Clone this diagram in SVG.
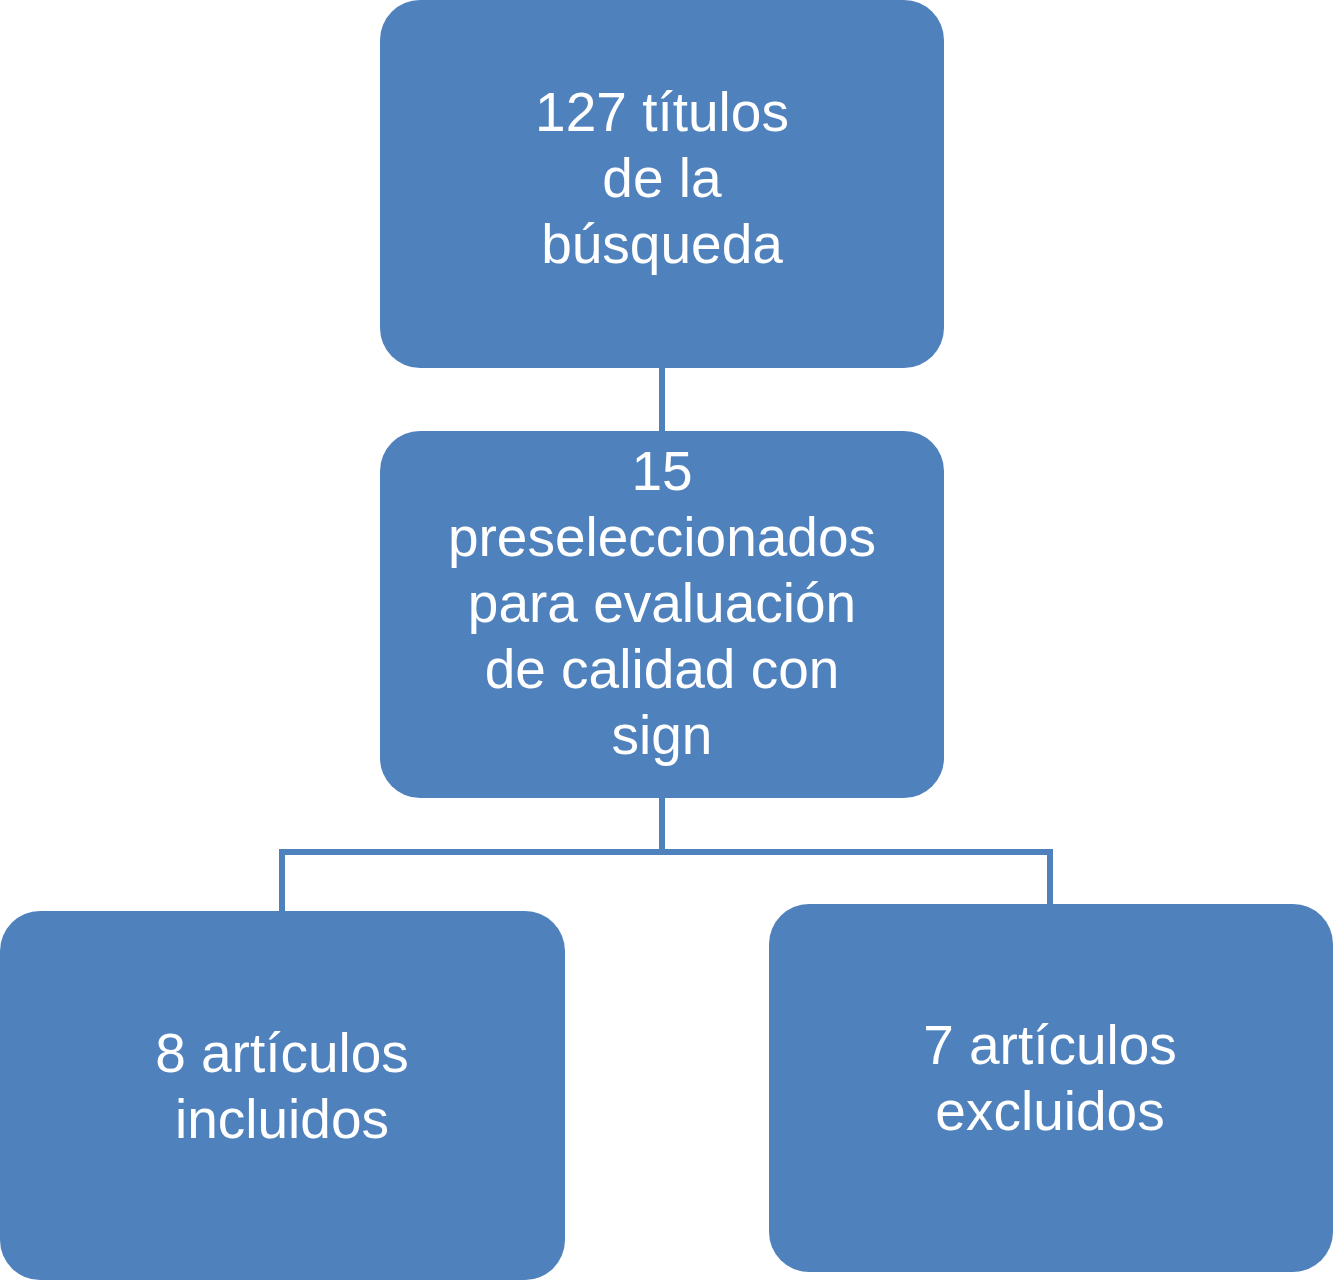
<svg xmlns="http://www.w3.org/2000/svg" width="1333" height="1280" viewBox="0 0 1333 1280">
<style>
.box{fill:#4F81BD;}
.t{fill:#FFFFFF;font-family:"Liberation Sans",Arial,sans-serif;font-size:55px;text-anchor:middle;}
.c{fill:none;stroke:#4F81BD;stroke-width:6;}
</style>
<rect width="1333" height="1280" fill="#FFFFFF"/>
<g id="connectors">
<path class="c" d="M662,366 V433"/>
<path class="c" d="M662,796 V852 M282,852 H1050 M282,849 V913 M1050,849 V906"/>
</g>
<g id="n1">
<rect class="box" x="380" y="0" width="564" height="368" rx="40"/>
<text class="t" x="662" y="131">127 títulos</text>
<text class="t" x="662" y="197">de la</text>
<text class="t" x="662" y="263">búsqueda</text>
</g>
<g id="n2">
<rect class="box" x="380" y="431" width="564" height="367" rx="40"/>
<text class="t" x="662" y="490">15</text>
<text class="t" x="662" y="556">preseleccionados</text>
<text class="t" x="662" y="622">para evaluación</text>
<text class="t" x="662" y="688">de calidad con</text>
<text class="t" x="662" y="754">sign</text>
</g>
<g id="n3">
<rect class="box" x="0" y="911" width="565" height="369" rx="40"/>
<text class="t" x="282" y="1072">8 artículos</text>
<text class="t" x="282" y="1138">incluidos</text>
</g>
<g id="n4">
<rect class="box" x="769" y="904" width="564" height="368" rx="40"/>
<text class="t" x="1050" y="1064">7 artículos</text>
<text class="t" x="1050" y="1130">excluidos</text>
</g>
</svg>
